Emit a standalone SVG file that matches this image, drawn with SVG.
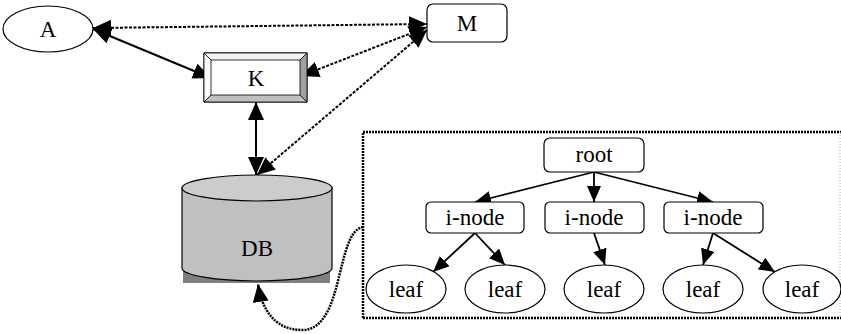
<svg xmlns="http://www.w3.org/2000/svg" width="841" height="334" viewBox="0 0 841 334">
<defs>
<marker id="ah" markerUnits="userSpaceOnUse" markerWidth="19" markerHeight="16" refX="18" refY="8" orient="auto-start-reverse" viewBox="0 0 19 16">
<path d="M0,0 L18,8 L0,16 z" fill="#000"/>
</marker>
<marker id="ahs" markerUnits="userSpaceOnUse" markerWidth="17" markerHeight="14" refX="16" refY="7" orient="auto-start-reverse" viewBox="0 0 17 14">
<path d="M0,0 L16,7 L0,14 z" fill="#000"/>
</marker>
</defs>
<style>
text{font-family:'Liberation Serif','Times New Roman','DejaVu Serif',serif;font-size:23px;fill:#000;text-anchor:middle}
.node{fill:#fff;stroke:#000;stroke-width:1.2}
.solid{fill:none;stroke:#000;stroke-width:2}
.dot{fill:none;stroke:#000;stroke-width:2;stroke-dasharray:3 1.5}
.tree{fill:none;stroke:#000;stroke-width:1.8}
.box{fill:none;stroke:#000;stroke-width:2.5;stroke-dasharray:2 1}
</style>
<rect width="841" height="334" fill="#fff"/>
<g id="connectors">
<line class="solid" x1="93" y1="29" x2="211" y2="78" marker-start="url(#ah)" marker-end="url(#ah)"/>
<line class="dot" x1="93" y1="28" x2="427" y2="24" marker-start="url(#ah)" marker-end="url(#ah)"/>
<line class="dot" x1="301" y1="76" x2="427" y2="27" marker-start="url(#ah)" marker-end="url(#ah)"/>
<line class="dot" x1="257" y1="175" x2="427" y2="30" marker-start="url(#ah)" marker-end="url(#ah)"/>
<line class="solid" x1="256" y1="102" x2="256" y2="175" marker-start="url(#ah)" marker-end="url(#ah)"/>
<path class="box" d="M363,227 C335,232 345,330 302,330 C275,330 262,310 258,284" marker-end="url(#ah)"/>
<line class="tree" x1="594" y1="172" x2="475" y2="202" marker-end="url(#ahs)"/>
<line class="tree" x1="594" y1="172" x2="594" y2="202" marker-end="url(#ahs)"/>
<line class="tree" x1="594" y1="172" x2="713" y2="202" marker-end="url(#ahs)"/>
<line class="tree" x1="475" y1="233" x2="433" y2="272" marker-end="url(#ahs)"/>
<line class="tree" x1="475" y1="233" x2="505" y2="265" marker-end="url(#ahs)"/>
<line class="tree" x1="594" y1="233" x2="605" y2="265" marker-end="url(#ahs)"/>
<line class="tree" x1="713" y1="233" x2="703" y2="265" marker-end="url(#ahs)"/>
<line class="tree" x1="713" y1="233" x2="775" y2="272" marker-end="url(#ahs)"/>
</g>
<g id="tree-box">
<path class="box" d="M363,318 L363,132 L841,132"/>
<path class="box" d="M363,318 L841,318"/>
<line x1="840" y1="132" x2="840" y2="318" stroke="#aaa" stroke-width="1" stroke-dasharray="1 2"/>
</g>
<g font-family="Liberation Serif, Times New Roman, serif">
<g id="A">
<ellipse class="node" cx="48" cy="29" rx="45" ry="23"/>
<text x="48" y="37">A</text>
</g>
<g id="K">
<rect x="204" y="53" width="103" height="49" fill="#fff" stroke="#000" stroke-width="1"/>
<polygon points="204,53 307,53 300,60 211,60" fill="#f4f4f4" stroke="#000" stroke-width="0.8"/>
<polygon points="204,53 211,60 211,95 204,102" fill="#fbfbfb" stroke="#000" stroke-width="0.8"/>
<polygon points="307,53 307,102 300,95 300,60" fill="#a0a0a0" stroke="#000" stroke-width="0.8"/>
<polygon points="204,102 211,95 300,95 307,102" fill="#c0c0c0" stroke="#000" stroke-width="0.8"/>
<text x="256" y="86">K</text>
</g>
<g id="M">
<rect class="node" x="427" y="4" width="80" height="38" rx="6"/>
<text x="467" y="31">M</text>
</g>
<g id="DB">
<rect x="183" y="190" width="147" height="93" fill="#808080"/>
<path d="M182,188 L182,268 A75,13 0 0 0 332,268 L332,188 Z" fill="#c0c0c0" stroke="#000" stroke-width="1.2"/>
<ellipse cx="257" cy="188" rx="75" ry="13" fill="#cccccc" stroke="#000" stroke-width="1.2"/>
<text x="257" y="256">DB</text>
</g>
<g id="root">
<rect class="node" x="544" y="138" width="100" height="34" rx="6"/>
<text x="594" y="162">root</text>
</g>
<g id="inode1">
<rect class="node" x="426" y="202" width="98" height="31" rx="5"/>
<text x="475" y="225">i-node</text>
</g>
<g id="inode2">
<rect class="node" x="545" y="202" width="99" height="31" rx="5"/>
<text x="594" y="225">i-node</text>
</g>
<g id="inode3">
<rect class="node" x="664" y="202" width="99" height="31" rx="5"/>
<text x="713" y="225">i-node</text>
</g>
<g id="leaf1">
<ellipse class="node" cx="406" cy="289" rx="40" ry="24"/>
<text x="406" y="297">leaf</text>
</g>
<g id="leaf2">
<ellipse class="node" cx="505" cy="289" rx="40" ry="24"/>
<text x="505" y="297">leaf</text>
</g>
<g id="leaf3">
<ellipse class="node" cx="604" cy="289" rx="40" ry="24"/>
<text x="604" y="297">leaf</text>
</g>
<g id="leaf4">
<ellipse class="node" cx="703" cy="289" rx="40" ry="24"/>
<text x="703" y="297">leaf</text>
</g>
<g id="leaf5">
<ellipse class="node" cx="802" cy="289" rx="39" ry="24"/>
<text x="802" y="297">leaf</text>
</g>
</g>
</svg>
